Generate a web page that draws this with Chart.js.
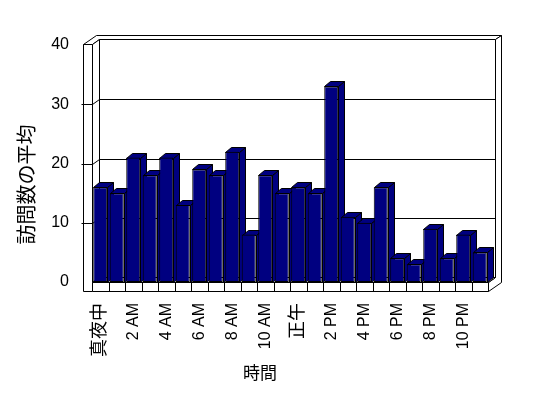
<!DOCTYPE html>
<html>
<head>
<meta charset="utf-8">
<script src="https://cdn.jsdelivr.net/npm/chart.js@4/dist/chart.umd.min.js"></script>
<style>
  html, body { margin: 0; padding: 0; background: #fff; }
</style>
</head>
<body>
<canvas id="chartHoumon" width="548" height="398"></canvas>
<script>
// データ
const jikan = ['真夜中', '', '2 AM', '', '4 AM', '', '6 AM', '', '8 AM', '', '10 AM', '',
               '正午', '', '2 PM', '', '4 PM', '', '6 PM', '', '8 PM', '', '10 PM', ''];
const houmonHeikin = [16, 15, 21, 18, 21, 13, 19, 18, 22, 8, 18, 15,
                      16, 15, 33, 11, 10, 16, 4, 3, 9, 4, 8, 5];
const yMemori = [0, 10, 20, 30, 40];
const yTitle = '訪問数の平均';
const xTitle = '時間';

const fontLatin = 'Liberation Sans, "Noto Sans CJK JP", sans-serif';
const navy = '#000080';

// 奥行き (Excel風の3D枠)
const depth = { x: 7, y: -5 };     // 前面 -> 背面の壁
const wall = { x: 6, y: -4 };      // 背面の壁の厚み
const barDepth = { x: 6, y: -5 };

const px = v => Math.round(v) + 0.5;

function line(ctx, pts) {
    ctx.beginPath();
    pts.forEach(([x, y], i) => i ? ctx.lineTo(px(x), px(y)) : ctx.moveTo(px(x), px(y)));
    ctx.stroke();
}

function shape(ctx, pts, fill) {
    ctx.beginPath();
    pts.forEach(([x, y], i) => i ? ctx.lineTo(px(x), px(y)) : ctx.moveTo(px(x), px(y)));
    ctx.closePath();
    ctx.fillStyle = fill;
    ctx.fill();
    ctx.stroke();
}

const box3d = {
    id: 'box3d',
    beforeDatasetsDraw(chart) {
        const { ctx, chartArea: { left: L, right: R, bottom: B } } = chart;
        const ys = chart.scales.y, xs = chart.scales.x;
        const T = ys.getPixelForValue(yMemori[yMemori.length - 1]) - 1;
        const Lo = L - 9, Fb = B + 9;
        const D = depth, S = wall;
        ctx.save();
        ctx.strokeStyle = '#000';
        ctx.lineWidth = 1;

        // 背面の壁
        shape(ctx, [[L + D.x, T + D.y], [R + D.x, T + D.y], [R + D.x, B + D.y], [L + D.x, B + D.y]], '#fff');
        // 壁の上面
        shape(ctx, [[Lo, T], [L, T], [L + D.x, T + D.y], [R + D.x, T + D.y],
                    [R + D.x + S.x, T + D.y + S.y], [Lo + D.x + S.x, T + D.y + S.y]], '#fff');
        // 右側面
        shape(ctx, [[R + D.x, T + D.y], [R + D.x + S.x, T + D.y + S.y], [R + D.x + S.x, Fb + D.y + S.y],
                    [R, Fb], [R, B], [R + D.x, B + D.y]], '#fff');
        // 左の壁の内側
        shape(ctx, [[L, T], [L + D.x, T + D.y], [L + D.x, B + D.y], [L, B]], '#fff');
        // 床の上面
        shape(ctx, [[L, B], [R, B], [R + D.x, B + D.y], [L + D.x, B + D.y]], '#fff');
        // 左の壁の前面
        shape(ctx, [[Lo, T], [L, T], [L, Fb], [Lo, Fb]], '#fff');
        // 床の前面
        shape(ctx, [[L, B], [R, B], [R, Fb], [L, Fb]], '#fff');

        // 目盛線
        yMemori.slice(1, -1).forEach(v => {
            const y = ys.getPixelForValue(v);
            line(ctx, [[Lo - 2, y], [L, y], [L + D.x, y + D.y], [R + D.x, y + D.y]]);
        });

        // 項目の区切り
        const n = jikan.length;
        for (let i = 1; i < n; i++) {
            const x = (xs.getPixelForTick(i - 1) + xs.getPixelForTick(i)) / 2;
            line(ctx, [[x, B], [x, Fb]]);
        }

        // 棒の上面と側面
        chart.getDatasetMeta(0).data.forEach(bar => {
            const { x, y, base, width } = bar.getProps(['x', 'y', 'base', 'width'], true);
            const xl = x - width / 2, xr = x + width / 2;
            const d = barDepth;
            shape(ctx, [[xr, y], [xr + d.x, y + d.y], [xr + d.x, base + d.y], [xr, base]], navy);
            shape(ctx, [[xl, y], [xr, y], [xr + d.x, y + d.y], [xl + d.x, y + d.y]], navy);
        });
        ctx.restore();
    }
};

const axisTitles = {
    id: 'axisTitles',
    afterDraw(chart) {
        const { ctx, chartArea } = chart;
        ctx.save();
        ctx.fillStyle = '#000';
        ctx.textAlign = 'center';
        ctx.textBaseline = 'middle';
        ctx.font = '20px ' + fontLatin;
        ctx.translate(28, (chartArea.top + chartArea.bottom) / 2 + 21);
        ctx.rotate(-Math.PI / 2);
        ctx.fillText(yTitle, 0, 0);
        ctx.restore();

        ctx.save();
        ctx.fillStyle = '#000';
        ctx.textAlign = 'center';
        ctx.textBaseline = 'middle';
        ctx.font = '17px ' + fontLatin;
        ctx.fillText(xTitle, chartArea.left + 168, 374);
        ctx.restore();
    }
};

new Chart(document.getElementById('chartHoumon'), {
    type: 'bar',
    data: {
        labels: jikan,
        datasets: [{
            label: yTitle,
            data: houmonHeikin,
            backgroundColor: navy,
            borderColor: '#000',
            borderWidth: 1,
            borderSkipped: false,
            barPercentage: 0.85,
            categoryPercentage: 1
        }]
    },
    options: {
        responsive: false,
        animation: false,
        layout: { padding: { left: 0, top: 45, right: 60, bottom: 0 } },
        plugins: {
            legend: { display: false },
            tooltip: { enabled: false }
        },
        scales: {
            x: {
                grid: { display: false, drawTicks: false },
                border: { display: false },
                afterFit: scale => { scale.height = 116; },
                ticks: {
                    autoSkip: false,
                    minRotation: 90,
                    maxRotation: 90,
                    padding: 21,
                    color: '#000',
                    font: c => ({
                        family: fontLatin,
                        size: /[A-Z0-9]/.test(c.tick && c.tick.label) ? 16 : 18
                    })
                }
            },
            y: {
                min: 0,
                max: 40,
                grid: { display: false, drawTicks: false },
                border: { display: false },
                afterFit: scale => { scale.width = 92; },
                ticks: {
                    stepSize: 10,
                    padding: 23,
                    color: '#000',
                    font: { family: fontLatin, size: 16 }
                }
            }
        }
    },
    plugins: [box3d, axisTitles]
});
</script>
</body>
</html>
